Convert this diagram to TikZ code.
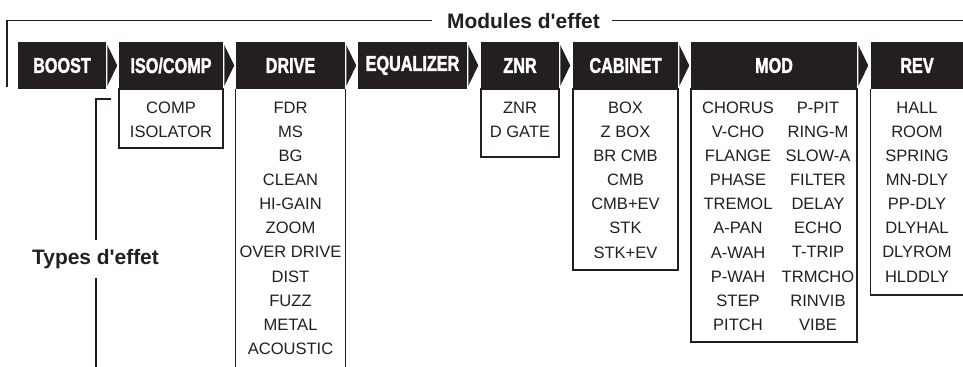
\documentclass[tikz,border=0pt]{standalone}
\usepackage{fontspec}
\setmainfont{Liberation Sans}
\newfontfamily\hdfont[FakeStretch=0.76,FakeBold=1.6]{Liberation Sans Bold}
\usetikzlibrary{fit,calc}
\definecolor{ink}{HTML}{231F20}
\begin{document}
\begin{tikzpicture}[x=0.75pt,y=-0.75pt,
  hdr/.style={fill=ink, inner sep=0pt, text=white, minimum height=35.25pt, font=\hdfont\fontsize{16}{16}\selectfont},
  box/.style={draw=ink, line width=0.9pt, inner sep=0pt},
  lst/.style={inner sep=0pt, anchor=north, align=center, font=\fontsize{12.4}{18.1}\selectfont, text=ink},
  ttl/.style={font=\bfseries\fontsize{15.7}{18}\selectfont, text=ink, inner sep=0pt},
  brk/.style={draw=ink, line width=0.8pt}]
\fill[white] (0,0) rectangle (963,367);
\useasboundingbox (0,0) rectangle (963,367);
\coordinate (bot) at (0,370);

% content boxes
\node[box, fit={(119,89)(223,148)}] (cIso) {};
\node[box, fit={(481,89)(559,157)}] (cZnr) {};
\node[box, fit={(573,89)(678,270)}] (cCab) {};
\node[box, fit={(691,89)(857,342)}] (cMod) {};

% header boxes (width in pt = px*0.75)
\node[hdr, minimum width=66pt]    (hBoost) at (62,65.5)  {BOOST};
\node[hdr, minimum width=78pt]    (hIso)   at (171,65.5) {ISO/COMP};
\node[hdr, minimum width=81.75pt] (hDrive) at (290.5,65.5) {DRIVE};
\node[hdr, minimum width=81.75pt] (hEq)    at (412.5,65.5) {EQUALIZER};
\node[hdr, minimum width=58.5pt]  (hZnr)   at (520,65.5) {ZNR};
\node[hdr, minimum width=78.75pt] (hCab)   at (625.5,65.5) {CABINET};
\node[hdr, minimum width=124.5pt] (hMod)   at (774,65.5) {MOD};
\node[hdr, minimum width=69pt]    (hRev)   at (917,65.5) {REV};

% chevrons
\foreach \n in {hBoost,hIso,hDrive,hEq,hZnr,hCab,hMod}{
  \fill[ink] ($(\n.east)+(1,-20.5)$) -- ($(\n.east)+(11,0)$) -- ($(\n.east)+(1,20.5)$) -- cycle;
}

% open boxes
\draw[box] (hDrive.south west) -- (hDrive.south west |- bot);
\draw[box] (hDrive.south east) -- (hDrive.south east |- bot);
\coordinate (revEnd) at (964,295);
\draw[box] (hRev.south west) |- (revEnd);

% lists
\node[lst] (lIso) at (171,101.5) {COMP\\ISOLATOR};
\node[lst] (lDrive) at (290.5,101.5) {FDR\\MS\\BG\\CLEAN\\HI-GAIN\\ZOOM\\OVER DRIVE\\DIST\\FUZZ\\METAL\\ACOUSTIC};
\node[lst] (lZnr) at (520,101.5) {ZNR\\D GATE};
\node[lst] (lCab) at (625.5,101.5) {BOX\\Z BOX\\BR CMB\\CMB\\CMB+EV\\STK\\STK+EV};
\node[lst] (lModA) at (738,101.5) {CHORUS\\V-CHO\\FLANGE\\PHASE\\TREMOL\\A-PAN\\A-WAH\\P-WAH\\STEP\\PITCH};
\node[lst] (lModB) at (818,101.5) {P-PIT\\RING-M\\SLOW-A\\FILTER\\DELAY\\ECHO\\T-TRIP\\TRMCHO\\RINVIB\\VIBE};
\node[lst] (lRev) at (917,101.5) {HALL\\ROOM\\SPRING\\MN-DLY\\PP-DLY\\DLYHAL\\DLYROM\\HLDDLY};

% Modules d'effet bracket
\node[ttl] (tMod) at (523.5,20.7) {Modules d\textquotesingle effet};
\coordinate (mL) at (7,87);
\coordinate (mR) at (964,20.7);
\draw[brk] (mL) |- ($(tMod.west)+(-15,0)$);
\draw[brk] ($(tMod.east)+(12,0)$) -- (mR);

% Types d'effet bracket
\node[ttl, anchor=base] (tTyp) at (95.5,264) {Types d\textquotesingle effet};
\coordinate (tTop) at (111,99);
\draw[brk] (tTop) -| ($(tTyp.north)+(0.5,-9)$);
\draw[brk] ($(tTyp.south)+(0.5,9)$) -- ($(tTyp.south |- bot)+(0.5,0)$);
\end{tikzpicture}
\end{document}
